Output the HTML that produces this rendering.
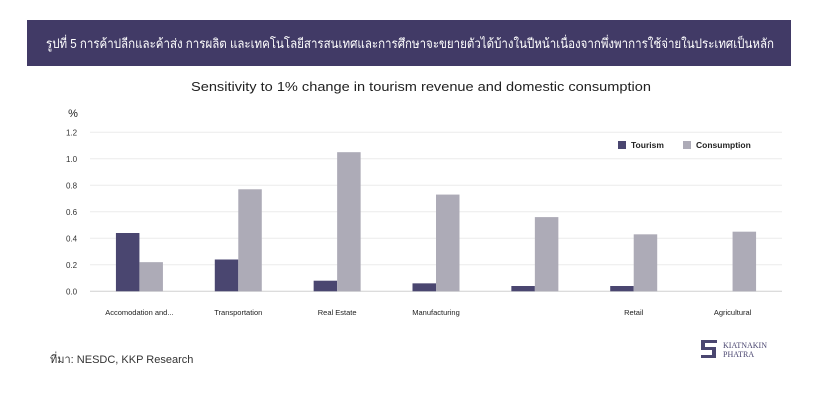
<!DOCTYPE html>
<html><head><meta charset="utf-8"><style>
body{margin:0;width:828px;height:400px;background:#fff;overflow:hidden;font-family:"Liberation Sans","Noto Sans CJK SC",sans-serif;}
</style></head><body>
<svg id="c" width="828" height="400" style="position:absolute;left:0;top:0">
<rect x="27" y="20" width="764" height="46" fill="#413a66"/>
<text x="46" y="48" font-size="13" fill="#fff" textLength="728" lengthAdjust="spacingAndGlyphs" font-family="Liberation Sans, Noto Sans CJK SC, sans-serif">รูปที่ 5 การค้าปลีกและค้าส่ง การผลิต และเทคโนโลยีสารสนเทศและการศึกษาจะขยายตัวได้บ้างในปีหน้าเนื่องจากพึ่งพาการใช้จ่ายในประเทศเป็นหลัก</text>
<text x="191" y="91" font-size="13" font-family="Liberation Sans" fill="#222" textLength="460" lengthAdjust="spacingAndGlyphs">Sensitivity to 1% change in tourism revenue and domestic consumption</text>
<text x="73" y="117" text-anchor="middle" font-size="11" fill="#222">%</text>
<g id="grid"></g><g id="bars"></g><g id="xl"></g>
<g>
<rect x="618" y="141" width="8" height="8" fill="#4a4670"/>
<text x="631" y="148" font-size="8.5" font-weight="bold" fill="#222">Tourism</text>
<rect x="683" y="141" width="8" height="8" fill="#adabb7"/>
<text x="696" y="148" font-size="8.5" font-weight="bold" fill="#222">Consumption</text>
</g>
<text x="50" y="363" font-size="11" fill="#333">ที่มา: NESDC, KKP Research</text>
<g>
<path d="M701 340h16v3h-12v4h11v11h-15v-3h11v-5h-11z" fill="#4a4670"/>
<text x="723" y="348" font-size="8" font-family="Liberation Serif" fill="#4a4670">KIATNAKIN</text>
<text x="723" y="357" font-size="8" font-family="Liberation Serif" fill="#4a4670">PHATRA</text>
</g>
</svg>
<script>
const categories=["Accomodation and...","Transportation","Real Estate","Manufacturing","","Retail","Agricultural"];
const tourism=[0.44,0.24,0.08,0.06,0.04,0.04,0.0];
const consumption=[0.22,0.77,1.05,0.73,0.56,0.43,0.45];
const ticks=["0.0","0.2","0.4","0.6","0.8","1.0","1.2"];
const NS="http://www.w3.org/2000/svg";
const x0=90,x1=782,y0=291.3,y1=132.3,vmax=1.2;
const band=(x1-x0)/categories.length,bw=23.5;
const ys=v=>y0-(v/vmax)*(y0-y1);
const xc=i=>x0+band*(i+0.5);
function mk(t,a,p){const e=document.createElementNS(NS,t);for(const k in a)e.setAttribute(k,a[k]);p.appendChild(e);return e;}
const g=document.getElementById('grid');
ticks.forEach(t=>{const v=parseFloat(t),y=ys(v);
const l=mk('line',{x1:x0,x2:x1,y1:y,y2:y,stroke:v===0?'#d0d0d0':'#ececec','stroke-width':1},g);


const tx=mk('text',{x:66,y:y+3,'font-size':8,fill:'#333'},g);tx.textContent=t;

});
const b=document.getElementById('bars'),xl=document.getElementById('xl');
categories.forEach((c,i)=>{const cx=xc(i);
if(tourism[i]>0){const r=mk('rect',{x:cx-bw,y:ys(tourism[i]),width:bw,height:y0-ys(tourism[i]),fill:'#4a4670'},b);

}
const r2=mk('rect',{x:cx,y:ys(consumption[i]),width:bw,height:y0-ys(consumption[i]),fill:'#adabb7'},b);


const t=mk('text',{x:cx,y:315,'text-anchor':'middle','font-size':7.5,fill:'#222'},xl);t.textContent=c;

});
</script>
</body></html>
